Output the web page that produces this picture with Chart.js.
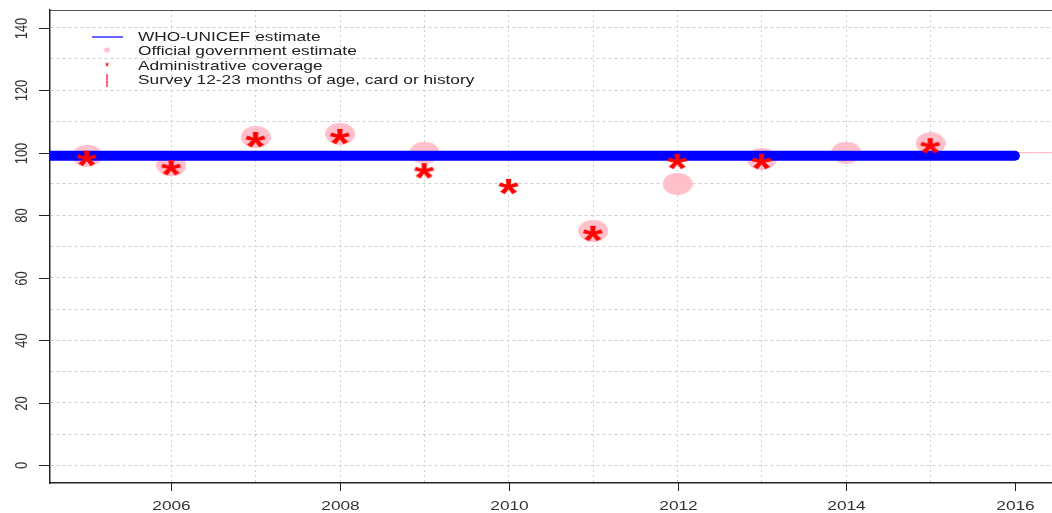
<!DOCTYPE html>
<html>
<head>
<meta charset="utf-8">
<script src="https://cdn.jsdelivr.net/npm/chart.js@4.4.1/dist/chart.umd.min.js"></script>
<style>
  html, body { margin: 0; padding: 0; background: #fff; }
  #wrap { width: 1052px; height: 513px; }
</style>
</head>
<body>
<div id="wrap"><canvas id="c" width="1052" height="513"></canvas></div>
<script>
// data
const whoYears = [2004, 2005, 2006, 2007, 2008, 2009, 2010, 2011, 2012, 2013, 2014, 2015, 2016];
const whoValues = [99, 99, 99, 99, 99, 99, 99, 99, 99, 99, 99, 99, 99];
const govYears = [2005, 2006, 2007, 2008, 2009, 2011, 2012, 2013, 2014, 2015];
const govValues = [99, 96, 105, 106, 100, 75, 90, 98, 100, 103];
const adminYears = [2005, 2006, 2007, 2008, 2009, 2010, 2011, 2012, 2013, 2015];
const adminValues = [99, 96, 105, 106, 95, 90, 75, 98, 98, 103];
const xTickLabels = [2006, 2008, 2010, 2012, 2014, 2016];
const yTickLabels = [0, 20, 40, 60, 80, 100, 120, 140];
const legendLabels = [
  "WHO-UNICEF estimate",
  "Official government estimate",
  "Administrative coverage",
  "Survey 12-23 months of age, card or history"
];

const FONT = '"Liberation Sans", Arial, sans-serif';
const STRETCH = 1.33; // the picture is wider than tall

function pts(xs, ys) {
  return xs.map((x, i) => ({ x: x, y: ys[i] }));
}

// pink ellipse marker
function makeEllipse(w, h, color) {
  const c = document.createElement("canvas");
  c.width = w; c.height = h;
  const g = c.getContext("2d");
  g.fillStyle = color;
  g.beginPath();
  g.ellipse(w / 2, h / 2, w / 2, h / 2, 0, 0, Math.PI * 2);
  g.fill();
  return c;
}

// asterisk marker drawn from the font glyph, sits a little low like R's text "*"
function makeStar(w, h, size, dy, color) {
  const c = document.createElement("canvas");
  c.width = w; c.height = h;
  const g = c.getContext("2d");
  g.fillStyle = color;
  g.font = "bold " + size + "px " + FONT;
  const m = g.measureText("*");
  const gw = m.actualBoundingBoxLeft + m.actualBoundingBoxRight;
  const gh = m.actualBoundingBoxAscent + m.actualBoundingBoxDescent;
  g.save();
  g.translate(w / 2, h / 2 + dy);
  g.scale(1.3, 1);
  g.fillText("*", -gw / 2 + m.actualBoundingBoxLeft, -gh / 2 + m.actualBoundingBoxAscent);
  g.restore();
  return c;
}

const circleImg = makeEllipse(30, 22, "#FFC0CB");
const starImg = makeStar(30, 30, 40, 3, "#FF0000");

function keepIntegers(scale) {
  scale.ticks = scale.ticks.filter(t => Math.abs(t.value - Math.round(t.value)) < 1e-6);
}

function wideText(ctx, text, x, y) {
  ctx.save();
  ctx.translate(x, y);
  ctx.scale(STRETCH, 1);
  ctx.fillText(text, 0, 0);
  ctx.restore();
}

const axisPlugin = {
  id: "rAxes",
  afterDraw(chart) {
    const ctx = chart.ctx;
    const xs = chart.scales.x, ys = chart.scales.y;
    const a = chart.chartArea;
    ctx.save();
    ctx.setLineDash([]);
    // top of box
    ctx.strokeStyle = "#555";
    ctx.lineWidth = 1;
    ctx.beginPath();
    ctx.moveTo(a.left, a.top + 0.5);
    ctx.lineTo(a.right, a.top + 0.5);
    ctx.stroke();

    ctx.strokeStyle = "#222";
    ctx.fillStyle = "#333";
    ctx.font = "13px " + FONT;
    // y ticks, labels rotated
    yTickLabels.forEach(v => {
      const y = Math.round(ys.getPixelForValue(v)) + 0.5;
      ctx.beginPath();
      ctx.moveTo(a.left - 11, y);
      ctx.lineTo(a.left, y);
      ctx.stroke();
      ctx.save();
      ctx.translate(22, y);
      ctx.scale(STRETCH, 1);
      ctx.rotate(-Math.PI / 2);
      ctx.textAlign = "center";
      ctx.textBaseline = "middle";
      ctx.fillText(String(v), 0, 0);
      ctx.restore();
    });
    // x ticks
    xTickLabels.forEach(v => {
      const x = Math.round(xs.getPixelForValue(v)) + 0.5;
      ctx.beginPath();
      ctx.moveTo(x, a.bottom);
      ctx.lineTo(x, a.bottom + 8);
      ctx.stroke();
      ctx.textAlign = "center";
      ctx.textBaseline = "middle";
      wideText(ctx, String(v), x, a.bottom + 23);
    });

    // legend
    const lx = 138, ly = 37, step = 14.6;
    ctx.font = "13px " + FONT;
    ctx.fillStyle = "#222";
    ctx.textAlign = "left";
    ctx.textBaseline = "middle";
    legendLabels.forEach((t, i) => wideText(ctx, t, lx, ly + i * step));
    // symbols
    ctx.strokeStyle = "#0000FF";
    ctx.lineWidth = 1.2;
    ctx.beginPath();
    ctx.moveTo(92, 37);
    ctx.lineTo(123, 37);
    ctx.stroke();
    ctx.fillStyle = "#FFC0CB";
    ctx.beginPath();
    ctx.ellipse(107, 50, 3, 2.5, 0, 0, Math.PI * 2);
    ctx.fill();
    ctx.fillStyle = "#FF0000";
    ctx.font = "12px " + FONT;
    ctx.textAlign = "center";
    ctx.fillText("*", 107, 68);
    ctx.strokeStyle = "#FF3355";
    ctx.lineWidth = 1.5;
    ctx.beginPath();
    ctx.moveTo(107, 74);
    ctx.lineTo(107, 87);
    ctx.stroke();
    ctx.restore();
  }
};

new Chart(document.getElementById("c"), {
  type: "scatter",
  data: {
    datasets: [
      {
        label: "Administrative coverage",
        data: pts(adminYears, adminValues),
        pointStyle: starImg,
        pointRadius: 15,
        order: 0
      },
      {
        label: "WHO-UNICEF estimate",
        type: "line",
        data: pts(whoYears, whoValues),
        borderColor: "#0000FF",
        borderWidth: 10,
        borderCapStyle: "round",
        pointRadius: 0,
        fill: false,
        order: 1
      },
      {
        label: "Official government estimate",
        data: pts(govYears, govValues),
        pointStyle: circleImg,
        pointRadius: 15,
        order: 2
      },
      {
        label: "reference",
        type: "line",
        data: pts([2004, 2017], [100, 100]),
        borderColor: "#FFB6C1",
        borderWidth: 1,
        pointRadius: 0,
        fill: false,
        order: 3
      }
    ]
  },
  options: {
    responsive: false,
    animation: false,
    events: [],
    layout: { autoPadding: false, padding: { top: 10, right: 0, left: 0, bottom: 0 } },
    plugins: {
      legend: { display: false },
      tooltip: { enabled: false }
    },
    scales: {
      x: {
        type: "linear",
        min: 2004.56,
        max: 2016.44,
        afterBuildTicks: keepIntegers,
        afterFit(s) { s.height = 30; },
        ticks: { stepSize: 1, display: false },
        grid: { color: "#d0d0d0", lineWidth: 1, drawTicks: false },
        border: { color: "#222", width: 1.5, dash: [2, 3] }
      },
      y: {
        min: -5.6,
        max: 145.6,
        afterBuildTicks: keepIntegers,
        afterFit(s) { s.width = 50; },
        ticks: { stepSize: 10, display: false },
        grid: { color: "#d0d0d0", lineWidth: 1, drawTicks: false },
        border: { color: "#222", width: 1.5, dash: [3, 3] }
      }
    }
  },
  plugins: [axisPlugin]
});
</script>
</body>
</html>
